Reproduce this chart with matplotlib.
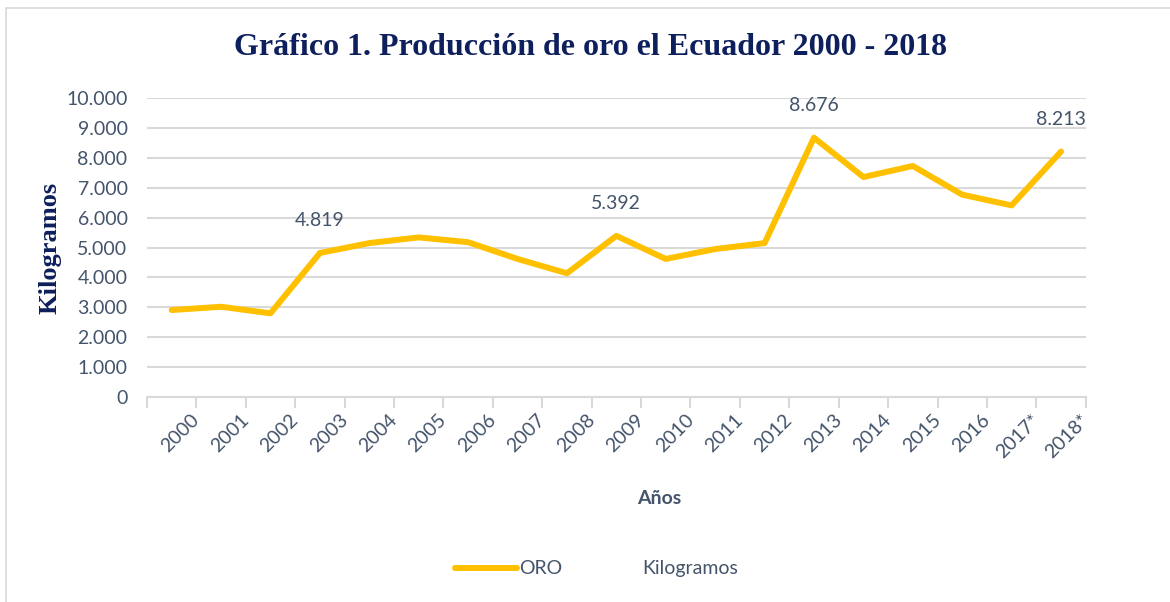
import matplotlib.pyplot as plt
from matplotlib.lines import Line2D
from matplotlib.patches import Rectangle
from matplotlib.ticker import FuncFormatter, MultipleLocator
from matplotlib.transforms import ScaledTranslation

years = ["2000", "2001", "2002", "2003", "2004", "2005", "2006", "2007", "2008", "2009",
         "2010", "2011", "2012", "2013", "2014", "2015", "2016", "2017*", "2018*"]
oro_kg = [2910, 3020, 2800, 4819, 5150, 5340, 5180, 4620, 4140, 5392,
          4620, 4950, 5150, 8676, 7360, 7730, 6770, 6410, 8213]
labelled = ["2003", "2009", "2013", "2018*"]

NAVY = "#0D1F5C"
GREY_TXT = "#44546A"
GOLD = "#FFC000"
GRID = "#D9D9D9"

plt.rcParams["font.family"] = ["Lato", "DejaVu Sans"]

fig = plt.figure(figsize=(11.7, 6.02), dpi=100)
fig.patches.append(Rectangle((0.005, -0.01), 1.0, 0.997, transform=fig.transFigure,
                             fill=False, edgecolor="#D9D9D9", linewidth=1.2))

ax = fig.add_axes([0.1256, 0.3405, 0.8024, 0.4965])
x = list(range(len(years)))
ax.plot(x, oro_kg, color=GOLD, linewidth=4.3, solid_capstyle="round", solid_joinstyle="round")

for i, (yr, v) in enumerate(zip(years, oro_kg)):
    if yr in labelled:
        ax.annotate(f"{v / 1000:.3f}", (i, v), xytext=(0, 17), textcoords="offset points",
                    ha="center", va="bottom", fontsize=14, color=GREY_TXT)

ax.set_xlim(-0.5, len(years) - 0.5)
ax.set_ylim(0, 10000)
ax.yaxis.set_major_locator(MultipleLocator(1000))
ax.yaxis.set_major_formatter(FuncFormatter(lambda v, p: "0" if v == 0 else f"{int(v):,}".replace(",", ".")))
ax.grid(axis="y", color=GRID, linewidth=1.5)
ax.set_axisbelow(True)

for s in ["top", "right", "left"]:
    ax.spines[s].set_visible(False)
ax.spines["bottom"].set_color(GRID)
ax.spines["bottom"].set_linewidth(1.5)

# category boundaries get the tick marks, labels sit on the minor ticks
ax.set_xticks([i - 0.5 for i in range(len(years) + 1)])
ax.set_xticklabels([])
ax.set_xticks(x, minor=True)
ax.set_xticklabels(years, minor=True, rotation=45, ha="right", rotation_mode="anchor")
ax.tick_params(axis="x", which="major", length=8, width=1.5, color=GRID)
ax.tick_params(axis="x", which="minor", length=0, pad=10, labelsize=14, labelcolor=GREY_TXT)
ax.tick_params(axis="y", length=0, pad=14, labelsize=14, labelcolor=GREY_TXT)
shift = ScaledTranslation(0.19, 0, fig.dpi_scale_trans)
for lbl in ax.get_xticklabels(minor=True):
    lbl.set_transform(lbl.get_transform() + shift)

ax.set_ylabel("Kilogramos", family="Liberation Serif", fontweight="bold", fontsize=19,
              color=NAVY, labelpad=3)
ax.set_xlabel("Años", fontweight="bold", fontsize=14, color=GREY_TXT)
ax.xaxis.set_label_coords(0.546, -0.31)

fig.text(0.505, 0.921, "Gráfico 1. Producción de oro el Ecuador 2000 - 2018",
         family="Liberation Serif", fontweight="bold", fontsize=23, color=NAVY,
         ha="center", va="center")

handles = [Line2D([], [], color=GOLD, linewidth=4.3, solid_capstyle="round"),
           Line2D([], [], color="none", linewidth=0)]
leg = fig.legend(handles, ["ORO", "Kilogramos"], loc="center", bbox_to_anchor=(0.51, 0.055),
                 ncol=2, frameon=False, fontsize=14, handlelength=3.2, handletextpad=0.1,
                 columnspacing=0.8)
for t in leg.get_texts():
    t.set_color(GREY_TXT)

fig.savefig("out.png", dpi=100)
